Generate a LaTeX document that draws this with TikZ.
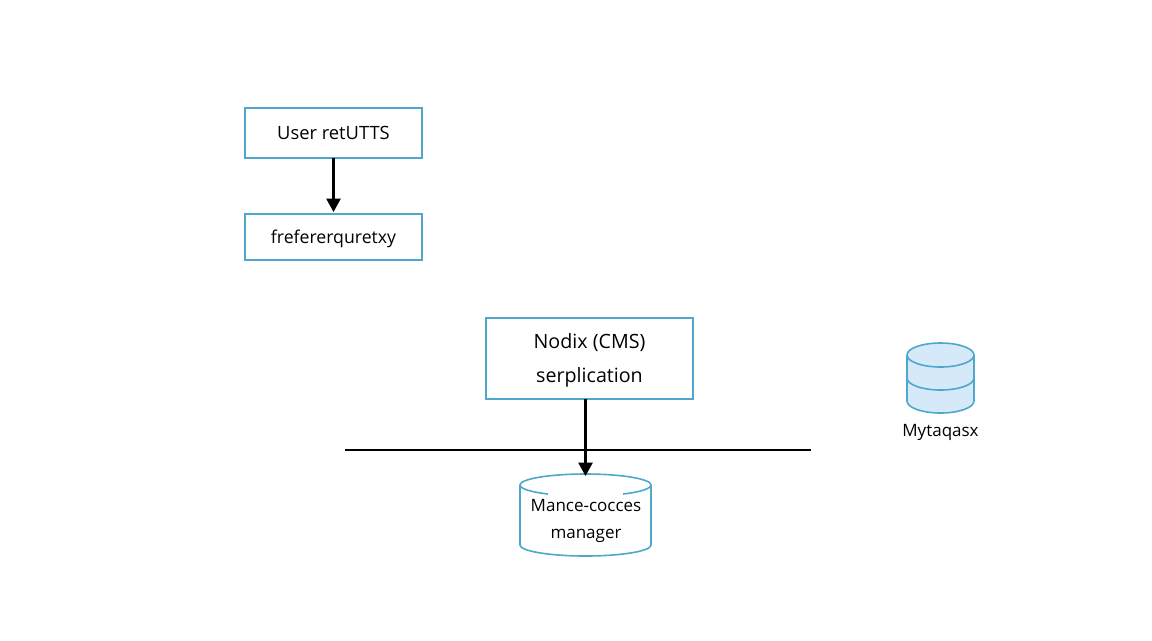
\documentclass[tikz,border=0pt]{standalone}
\usepackage{fontspec}
\setmainfont{Open Sans}
\usetikzlibrary{arrows.meta}
\definecolor{boxblue}{HTML}{4FA8CC}
\definecolor{canblue}{HTML}{D6E9F9}
\tikzset{
  box/.style={draw=boxblue,line width=1.4pt,fill=white,inner sep=0pt,outer sep=0pt,align=center,minimum width=132.75pt},
  can/.style={draw=boxblue,line width=1.2pt},
  bigend/.style={x radius=49.125pt,y radius=8.25pt},
  smallend/.style={x radius=25.125pt,y radius=9pt},
  flow/.style={-{Triangle[length=10pt,width=10.5pt]},line width=1.7pt,black,shorten >=1.5pt}
}
\begin{document}
\begin{tikzpicture}[x=0.75pt,y=-0.75pt]
    \useasboundingbox (0,0) rectangle (1152,640);
    \node[box,minimum height=37.5pt,text depth=0pt,font=\fontsize{13.75}{16}\selectfont] (user) at (333.5,133) {User retUTTS};
    \node[box,minimum height=34.5pt,text depth=0pt,font=\fontsize{13.25}{16}\selectfont] (freq) at (333.5,237) {frefererquretxy};
    \draw[flow] (user) to (freq);
    \node[box,minimum width=155.25pt,minimum height=60.75pt,font=\fontsize{14.75}{25.5}\selectfont] (nodix) at (589.5,358.5) {\strut Nodix (CMS)\\\strut serplication};
    \coordinate (busleft) at (345,450);
    \coordinate (busright) at (811,450);
    \draw[line width=1.5pt] (busleft) to (busright);
    % manager drum
    \coordinate (managertop) at (585.5,478);
    \draw[can,fill=white] (520,485) -- (520,545) arc[start angle=180,end angle=360,bigend] -- (651,485) arc[start angle=0,end angle=180,bigend] -- cycle;
    \draw[can] (520,485) arc[start angle=180,end angle=235,bigend];
    \draw[can] (651,485) arc[start angle=0,end angle=-55,bigend];
    \node[inner sep=0pt,align=center,font=\fontsize{12.75}{20}\selectfont] (managertext) at (586,521) {Mance-cocces\\manager};
    \draw[flow] (nodix.south -| managertop) to (managertop);
    % store drum
    \draw[can,fill=canblue] (907,355) -- (907,401) arc[start angle=180,end angle=360,smallend] -- (974,355) arc[start angle=0,end angle=180,smallend] -- cycle;
    \draw[can] (907,355) arc[start angle=180,end angle=360,smallend];
    \draw[can] (907,378) arc[start angle=180,end angle=360,smallend];
    \node[font=\fontsize{12.75}{14}\selectfont] (storetext) at (940.5,432) {Mytaqasx};
  \end{tikzpicture}
\end{document}
